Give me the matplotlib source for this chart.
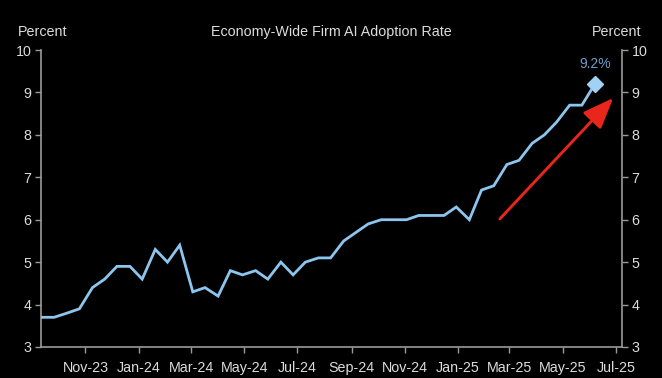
"""Economy-wide firm AI adoption rate, dark style with dual percent axes."""

import matplotlib

matplotlib.use("Agg")
import matplotlib.dates as mdates
import matplotlib.pyplot as plt
import pandas as pd

BG = "#000000"
LINE = "#8cc6ee"
MARK = "#9fd2f5"
LABEL = "#6f9dc6"
RED = "#e8261c"
SPINE = "#9a9a9a"
TXT = "#dcdcdc"

# biweekly survey periods
DATES = [
    "2023-09-12", "2023-09-26", "2023-10-11", "2023-10-25", "2023-11-09",
    "2023-11-23", "2023-12-07", "2023-12-22", "2024-01-05", "2024-01-20",
    "2024-02-03", "2024-02-17", "2024-03-03", "2024-03-17", "2024-04-01",
    "2024-04-15", "2024-04-29", "2024-05-14", "2024-05-28", "2024-06-12",
    "2024-06-26", "2024-07-10", "2024-07-25", "2024-08-08", "2024-08-23",
    "2024-09-06", "2024-09-20", "2024-10-05", "2024-10-19", "2024-11-03",
    "2024-11-17", "2024-12-01", "2024-12-16", "2024-12-30", "2025-01-14",
    "2025-01-28", "2025-02-11", "2025-02-26", "2025-03-12", "2025-03-27",
    "2025-04-10", "2025-04-24", "2025-05-09", "2025-05-23", "2025-06-07",
]
RATE = [
    3.7, 3.7, 3.8, 3.9, 4.4, 4.6, 4.9, 4.9, 4.6, 5.3,
    5.0, 5.4, 4.3, 4.4, 4.2, 4.8, 4.7, 4.8, 4.6, 5.0,
    4.7, 5.0, 5.1, 5.1, 5.5, 5.7, 5.9, 6.0, 6.0, 6.0,
    6.1, 6.1, 6.1, 6.3, 6.0, 6.7, 6.8, 7.3, 7.4, 7.8,
    8.0, 8.3, 8.7, 8.7, 9.2,
]
TICK_DATES = ["2023-11-01", "2024-01-01", "2024-03-01", "2024-05-01",
              "2024-07-01", "2024-09-01", "2024-11-01", "2025-01-01",
              "2025-03-01", "2025-05-01", "2025-07-01"]
Y_TICKS = [3, 4, 5, 6, 7, 8, 9, 10]

plt.rcParams.update({
    "font.family": ["Liberation Sans", "DejaVu Sans"],
    "font.size": 10,
    "figure.facecolor": BG,
    "axes.facecolor": BG,
})

dates = pd.to_datetime(DATES)
ticks = pd.to_datetime(TICK_DATES)

fig = plt.figure(figsize=(6.62, 3.78), dpi=100)
ax = fig.add_axes([41 / 662, 1 - 347 / 378, 581 / 662, 297 / 378])

ax.plot(dates, RATE, color=LINE, lw=2.0, solid_joinstyle="miter", zorder=3)
ax.plot(dates[-1:], RATE[-1:], marker="D", ms=8.5, color=MARK, ls="none", zorder=4)
ax.annotate(f"{RATE[-1]:.1f}%", (dates[-1], RATE[-1]), xytext=(0, 9),
            textcoords="offset points", ha="center", va="bottom",
            color=LABEL, fontsize=10)

# red arrow pointing at the recent jump
ax.annotate("", xy=(pd.Timestamp("2025-06-28"), 8.87),
            xytext=(pd.Timestamp("2025-02-18"), 6.02),
            arrowprops=dict(arrowstyle="-|>,head_length=1.9,head_width=0.75",
                            color=RED, lw=2.1, shrinkA=0, shrinkB=0),
            zorder=5)

ax.set_xlim(pd.Timestamp("2023-09-11"), pd.Timestamp("2025-07-08"))
ax.set_ylim(3, 10)
ax.set_yticks(Y_TICKS)
ax.set_xticks(ticks)
ax.xaxis.set_major_formatter(mdates.DateFormatter("%b-%y"))

ax.spines["top"].set_visible(False)
for side in ("left", "right", "bottom"):
    ax.spines[side].set_color(SPINE)
    ax.spines[side].set_linewidth(1.2)

ax.tick_params(axis="both", colors=SPINE, labelcolor=TXT, labelsize=10.3,
               length=4, width=1.0, direction="out")
ax.tick_params(axis="y", left=True, right=True, labelleft=True, labelright=True, pad=3)
ax.tick_params(axis="x", pad=6)

fig.text(43 / 662, 1 - 32 / 378, "Percent", color=TXT, ha="center", va="center", fontsize=10.3)
fig.text(617 / 662, 1 - 32 / 378, "Percent", color=TXT, ha="center", va="center", fontsize=10.3)
fig.text(331 / 662, 1 - 32 / 378, "Economy-Wide Firm AI Adoption Rate", color=TXT,
         ha="center", va="center", fontsize=10.3)

fig.savefig("out.png", dpi=100, facecolor=BG)
